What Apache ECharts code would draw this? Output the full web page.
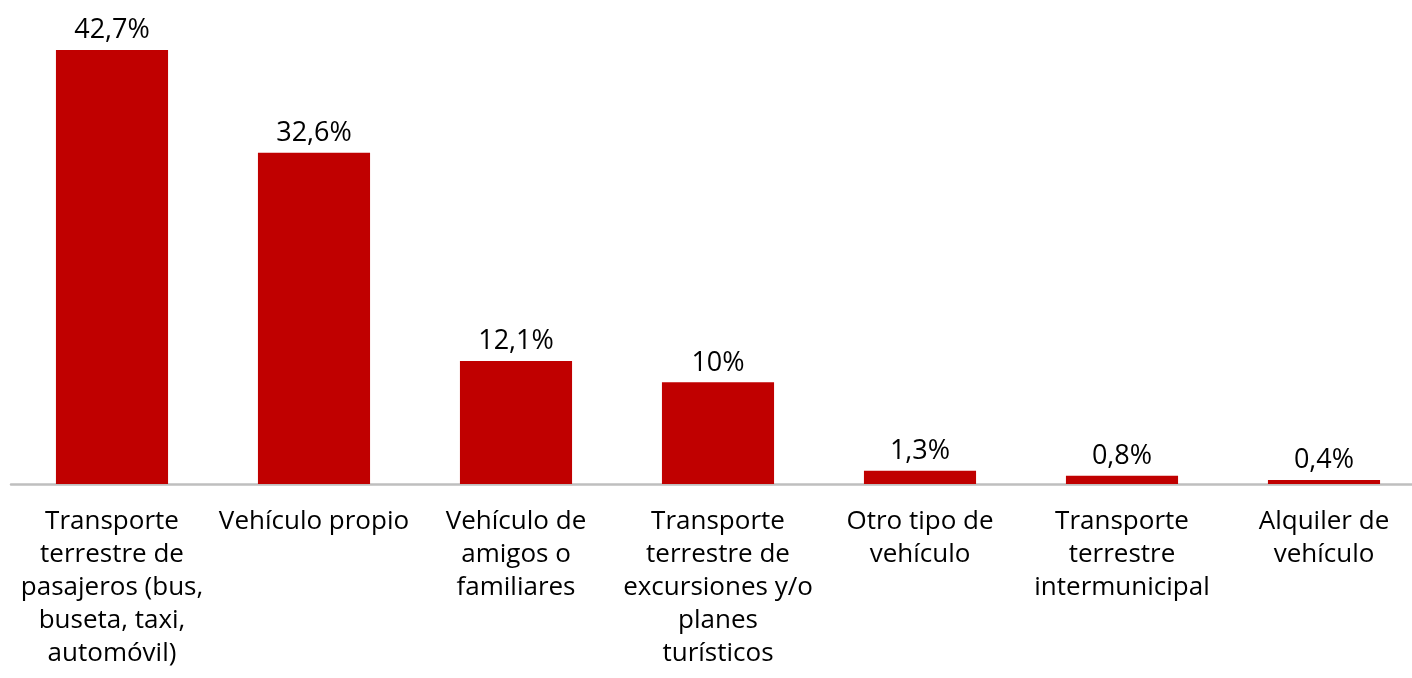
<!DOCTYPE html>
<html>
<head>
<meta charset="utf-8">
<script src="https://cdn.jsdelivr.net/npm/echarts@6/dist/echarts.min.js"></script>
<style>
  html, body { margin: 0; padding: 0; background: #fff; }
  #chart { width: 1412px; height: 678px; }
</style>
</head>
<body>
<div id="chart"></div>
<script>
const categories = [
  'Transporte\nterrestre de\npasajeros (bus,\nbuseta, taxi,\nautomóvil)',
  'Vehículo propio',
  'Vehículo de\namigos o\nfamiliares',
  'Transporte\nterrestre de\nexcursiones y/o\nplanes\nturísticos',
  'Otro tipo de\nvehículo',
  'Transporte\nterrestre\nintermunicipal',
  'Alquiler de\nvehículo'
]
const values = [42.7, 32.6, 12.1, 10, 1.3, 0.8, 0.4]

const chart = echarts.init(document.getElementById('chart'))

chart.setOption({
  animation: false,
  textStyle: { fontFamily: 'Open Sans' },
  grid: {
    left: 11,
    right: -13,
    top: 50,
    bottom: 194,
    outerBoundsMode: 'none',
    containLabel: false
  },
  xAxis: {
    type: 'category',
    data: categories,
    axisLine: { lineStyle: { color: '#BFBFBF', width: 2.5 } },
    axisTick: { show: false },
    axisLabel: {
      interval: 0,
      color: '#000',
      fontSize: 26,
      lineHeight: 33,
      margin: 21,
      verticalAlign: 'top',
      align: 'center'
    }
  },
  yAxis: {
    type: 'value',
    min: 0,
    max: 42.7,
    show: false
  },
  series: [{
    type: 'bar',
    data: values,
    barWidth: '55.5%',
    itemStyle: { color: '#C00000' },
    label: {
      show: true,
      position: 'top',
      distance: 6,
      color: '#000',
      fontSize: 27,
      formatter: (p) => String(p.value).replace('.', ',') + '%'
    }
  }]
})
</script>
</body>
</html>
